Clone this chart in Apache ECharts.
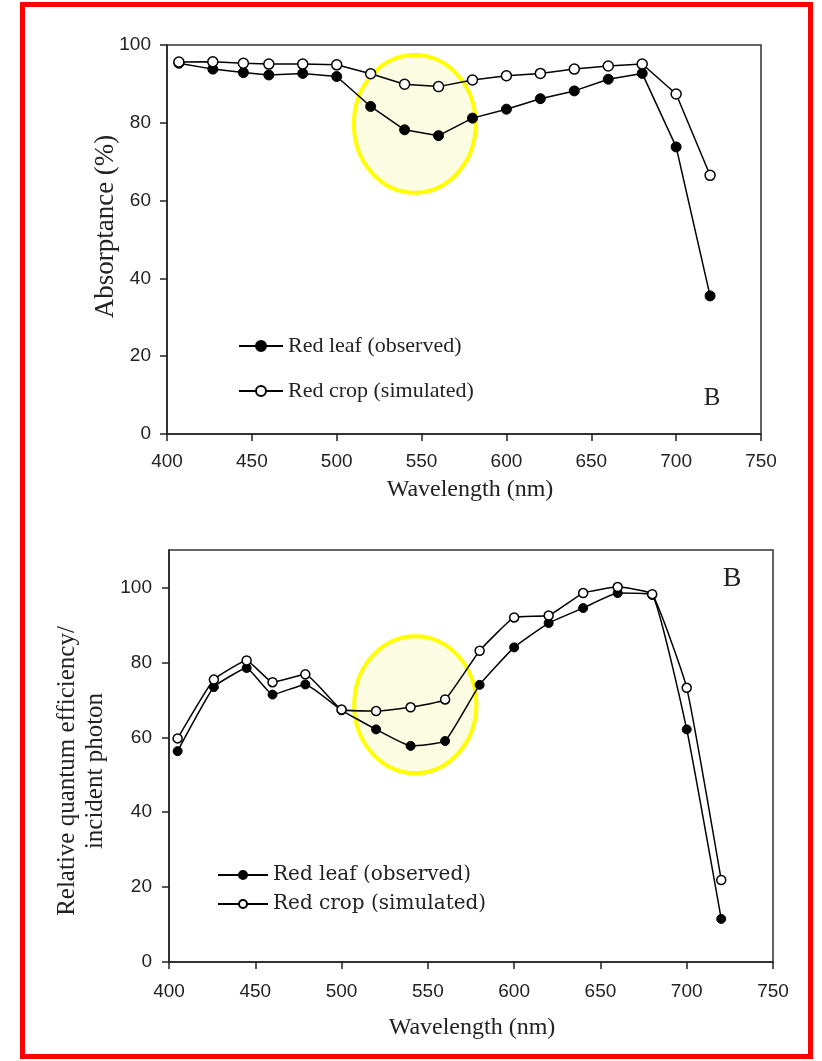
<!DOCTYPE html>
<html><head><meta charset="utf-8">
<script src="https://cdn.jsdelivr.net/npm/echarts@6/dist/echarts.min.js"></script>
<style>
html,body{margin:0;padding:0;background:#fff;}
#chart{position:absolute;left:0;top:0;width:822px;height:1061px;}
#frame{position:absolute;left:20px;top:2px;width:793px;height:1057px;box-sizing:border-box;border:5px solid #ff0000;pointer-events:none;}
</style></head><body>
<div id="chart"></div><div id="frame"></div>
<script>
// ---- Panel 1 (absorptance) ----
const topWavelengths = [407, 427, 445, 460, 480, 500, 520, 540, 560, 580, 600, 620, 640, 660, 680, 700, 720];
const topRedLeaf     = [95.3, 93.8, 92.9, 92.3, 92.7, 91.9, 84.2, 78.2, 76.7, 81.2, 83.5, 86.2, 88.2, 91.2, 92.7, 73.8, 35.5];
const topRedCrop     = [95.6, 95.7, 95.3, 95.1, 95.1, 94.9, 92.6, 89.9, 89.3, 91.0, 92.1, 92.7, 93.8, 94.6, 95.1, 87.4, 66.5];
const topEllipse     = [546, 79.7, 35.9, 17.7]; // centre x, centre y, radius x, radius y (data units)

// ---- Panel 2 (relative quantum efficiency) ----
const botWavelengths = [405, 426, 445, 460, 479, 500, 520, 540, 560, 580, 600, 620, 640, 660, 680, 700, 720];
const botRedLeaf     = [56.3, 73.4, 78.5, 71.4, 74.1, 67.2, 62.1, 57.7, 59.0, 74.0, 84.0, 90.5, 94.5, 98.5, 98.0, 62.1, 11.5];
const botRedCrop     = [59.7, 75.4, 80.5, 74.7, 76.8, 67.4, 67.0, 68.0, 70.1, 83.1, 92.0, 92.5, 98.5, 100.1, 98.2, 73.2, 21.9];
const botEllipse     = [542.7, 68.7, 35.4, 18.3];

const xTicks = [400, 450, 500, 550, 600, 650, 700, 750];
const yTicks = [0, 20, 40, 60, 80, 100];
const seriesNames = ['Red leaf (observed)', 'Red crop (simulated)'];
const labelText = 'B';

const pairs = (xs, ys) => xs.map((x, i) => [x, ys[i]]);
const AX = '#222';
const tickFont = {fontFamily: 'Liberation Sans', fontSize: 19, color: AX};

function xAxisOpt(gridIndex, nameGap, padLeft, margin) {
  return {
    gridIndex, type: 'value', min: xTicks[0], max: xTicks[xTicks.length - 1], interval: 50,
    name: 'Wavelength (nm)', nameLocation: 'middle', nameGap,
    nameTextStyle: {fontFamily: 'Liberation Serif', fontSize: 24, color: AX, padding: [0, 0, 0, padLeft]},
    axisLine: {show: true, onZero: false, lineStyle: {color: AX, width: 1.5}},
    axisTick: {show: true, inside: false, length: 7, lineStyle: {color: AX, width: 1.5}},
    axisLabel: Object.assign({margin}, tickFont),
    splitLine: {show: false}
  };
}

function ellipseSeries(idx, e) {
  return {
    type: 'custom', xAxisIndex: idx, yAxisIndex: idx, z: 1, silent: true, clip: false,
    data: [e],
    renderItem: function (params, api) {
      const c = api.coord([api.value(0), api.value(1)]);
      const s = api.size([api.value(2), api.value(3)]);
      return {
        type: 'ellipse',
        shape: {cx: c[0], cy: c[1], rx: s[0], ry: s[1]},
        style: {fill: '#fcfce2', stroke: '#ffff00', lineWidth: 4}
      };
    }
  };
}

function lineSeries(idx, name, xs, ys, filled, size, smooth) {
  return {
    type: 'line', name, xAxisIndex: idx, yAxisIndex: idx, z: 3,
    data: pairs(xs, ys), smooth: smooth,
    symbol: 'circle', symbolSize: size, showAllSymbol: true,
    lineStyle: {color: '#000', width: 1.5},
    itemStyle: filled ? {color: '#000', borderColor: '#000', borderWidth: 1}
                      : {color: '#fff', borderColor: '#000', borderWidth: 1.5},
    emphasis: {disabled: true}
  };
}

const chart = echarts.init(document.getElementById('chart'), null, {renderer: 'canvas'});
chart.setOption({
  animation: false,
  backgroundColor: '#fff',
  grid: [
    {left: 167, top: 45, width: 594, height: 389, show: true, borderColor: '#333', borderWidth: 1.5, containLabel: false},
    {left: 169, top: 550, width: 604, height: 412, show: true, borderColor: '#333', borderWidth: 1.5, containLabel: false}
  ],
  xAxis: [xAxisOpt(0, 44, 12, 18), xAxisOpt(1, 54, 2, 20)],
  yAxis: [
    {
      gridIndex: 0, type: 'value', min: 0, max: 100, interval: 20,
      name: 'Absorptance (%)', nameLocation: 'middle', nameGap: 48, nameMoveOverlap: false,
      nameTextStyle: {fontFamily: 'Liberation Serif', fontSize: 27, color: AX, padding: [0, 0, 0, 26]},
      axisLine: {show: true, lineStyle: {color: AX, width: 1.5}},
      axisTick: {show: true, length: 7, lineStyle: {color: AX, width: 1.5}},
      axisLabel: Object.assign({margin: 16}, tickFont),
      splitLine: {show: false}
    },
    {
      gridIndex: 1, type: 'value', min: 0, max: 110, interval: 20,
      name: 'Relative quantum efficiency/\nincident photon', nameLocation: 'middle', nameGap: 60, nameMoveOverlap: false,
      nameTextStyle: {fontFamily: 'Liberation Serif', fontSize: 25, lineHeight: 28, color: AX, padding: [0, 30, 0, 0]},
      axisLine: {show: true, lineStyle: {color: AX, width: 1.5}},
      axisTick: {show: true, length: 7, customValues: yTicks, lineStyle: {color: AX, width: 1.5}},
      axisLabel: Object.assign({margin: 17, customValues: yTicks,
        formatter: v => (v > 100 ? '' : String(v))}, tickFont),
      splitLine: {show: false}
    }
  ],
  legend: [
    {
      data: seriesNames.map(n => ({name: n})), orient: 'vertical', left: 233, top: 330,
      itemWidth: 44, itemHeight: 12.5, itemGap: 23, selectedMode: false,
      textStyle: {fontFamily: 'Liberation Serif', fontSize: 22, color: AX}
    },
    {
      data: seriesNames.map(n => ({name: n + ' '})), orient: 'vertical', left: 212, top: 860,
      itemWidth: 50, itemHeight: 10, itemGap: 9, selectedMode: false,
      textStyle: {fontFamily: 'DejaVu Serif', fontSize: 20, color: AX}
    }
  ],
  graphic: [
    {type: 'text', x: 712, y: 398, style: {text: labelText, font: '25px "Liberation Serif"', fill: '#222', align: 'center', verticalAlign: 'middle'}},
    {type: 'text', x: 732, y: 579, style: {text: labelText, font: '28px "Liberation Serif"', fill: '#222', align: 'center', verticalAlign: 'middle'}}
  ],
  series: [
    ellipseSeries(0, topEllipse),
    lineSeries(0, seriesNames[0], topWavelengths, topRedLeaf, true, 10, false),
    lineSeries(0, seriesNames[1], topWavelengths, topRedCrop, false, 10, false),
    ellipseSeries(1, botEllipse),
    lineSeries(1, seriesNames[0] + ' ', botWavelengths, botRedLeaf, true, 9, 0.12),
    lineSeries(1, seriesNames[1] + ' ', botWavelengths, botRedCrop, false, 9, 0.12)
  ]
});
</script>
</body></html>
